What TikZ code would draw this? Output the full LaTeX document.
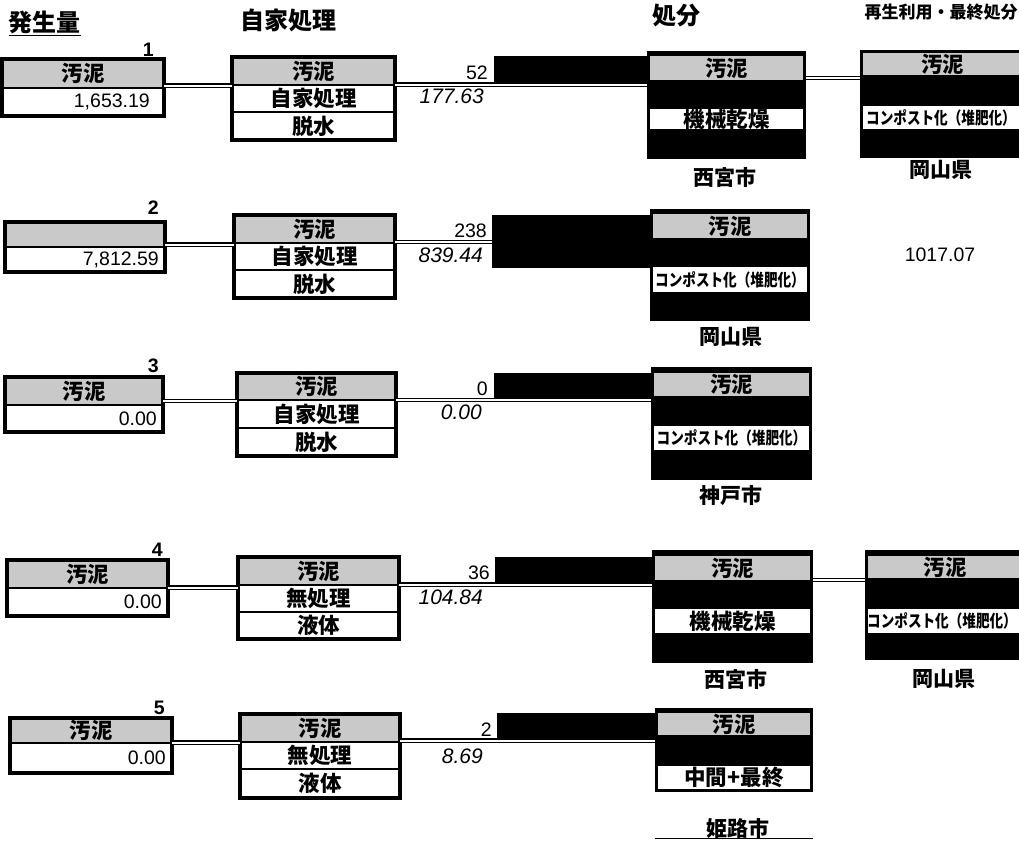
\documentclass[tikz,border=0pt]{standalone}
\usepackage{fontspec}
\setmainfont{Liberation Sans}
\newfontfamily\jp{Noto Sans CJK JP}
\newfontfamily\jpn[FakeStretch=0.8]{Noto Sans CJK JP}
\usetikzlibrary{fit}
\definecolor{shadegray}{gray}{0.79}
\tikzset{
  x=1pt, y=-1pt,
  boxframe/.style={draw, line width=3.2pt, inner sep=0pt, outer sep=0pt},
  blackbox/.style={fill=black, inner sep=0pt, outer sep=0pt},
  graycell/.style={fill=shadegray, inner sep=0pt, outer sep=0pt},
  whitecell/.style={fill=white, inner sep=0pt, outer sep=0pt},
  divider/.style={line width=1.6pt},
  dbl/.style={draw, double=white, double distance=2pt, line width=1.3pt},
  jptxt/.style={font={\jp\bfseries\fontsize{21.5}{24}\selectfont}, inner sep=0pt},
  loc/.style={font={\jp\bfseries\fontsize{21}{24}\selectfont}, inner sep=0pt},
  hdr/.style={font={\jp\bfseries\fontsize{24}{26}\selectfont}, inner sep=0pt},
  hdrs/.style={font={\jp\bfseries\fontsize{17}{19}\selectfont}, inner sep=0pt},
  cmp/.style={font={\jpn\bfseries\fontsize{17}{19}\selectfont}, inner sep=0pt},
  numtxt/.style={font={\fontsize{19.5}{22}\selectfont}, inner sep=0pt},
  itxt/.style={font={\itshape\fontsize{21}{24}\selectfont}, inner sep=0pt},
  rownum/.style={font={\bfseries\fontsize{19.5}{22}\selectfont}, inner sep=0pt},
}
% name, x1, y1, x2, ydiv, y2, top text, bottom text, right inset
\newcommand\Abox[9]{%
  \fill[shadegray] (#2,#3) rectangle (#4,#5);
  \draw[divider] (#2,#5) -- (#4,#5);
  \node[boxframe, fit={(#2,#3)(#4,#6)}] (#1) {};
  \node[jptxt] (#1t) at ({(#2+#4)/2},{(#3+#5)/2}) {#7};
  \node[numtxt, anchor=east] (#1v) at ({#4-#9},{(#5+#6)/2}) {#8};
}
% name, x1, y1, x2, d1, d2, y2, second text, third text
\newcommand\Bbox[9]{%
  \fill[shadegray] (#2,#3) rectangle (#4,#5);
  \draw[divider] (#2,#5) -- (#4,#5);
  \draw[divider] (#2,#6) -- (#4,#6);
  \node[boxframe, fit={(#2,#3)(#4,#7)}] (#1) {};
  \node[jptxt] (#1a) at ({(#2+#4)/2},{(#3+#5)/2}) {汚泥};
  \node[jptxt] (#1b) at ({(#2+#4)/2},{(#5+#6)/2}) {#8};
  \node[jptxt] (#1c) at ({(#2+#4)/2},{(#6+#7)/2}) {#9};
}
% name, x1, y1, x2, y2, gray top, gray bottom, white top, white bottom
\newcommand\Cbox[9]{%
  \node[blackbox, fit={(#2,#3)(#4,#5)}] (#1) {};
  \node[graycell, fit={(#2+3,#6)(#4-3,#7)}] (#1g) {};
  \node[jptxt] (#1gt) at (#1g) {汚泥};
  \node[whitecell, fit={(#2+3,#8)(#4-3,#9)}] (#1w) {};
}
\begin{document}
\begin{tikzpicture}
\useasboundingbox (0,0) rectangle (1019,841);
\fill[white] (0,0) rectangle (1019,841);

% headers
\node[hdr] (h1) at (45,22) {発生量};
\draw[line width=1.3pt] ([yshift=-1.5pt]h1.south west) -- ([yshift=-1.5pt]h1.south east);
\node[hdr] (h2) at (288,20) {自家処理};
\node[hdr] (h3) at (676,16) {処分};
\node[hdrs] (h4) at (941,12) {再生利用・最終処分};

% ---------- row 1
\coordinate (ab1) at (0,85.5);
\coordinate (bc1) at (0,84.5);
\coordinate (cd1) at (0,78);
\Abox{a1}{2}{59}{164}{88}{116}{汚泥}{1,653.19}{14}
\node[rownum, anchor=south east] (n1) at (154,57) {1};
\Bbox{b1}{232}{57}{395}{85}{112}{140}{自家処理}{脱水}
\Cbox{c1}{647}{51}{806}{159}{56}{80}{109}{129}
\node[jptxt] (c1wt) at (c1w) {機械乾燥};
\node[loc] (c1l) at (725,177) {西宮市};
\Cbox{d1}{860}{50}{1025}{158}{53}{75}{106}{129}
\node[cmp] (d1wt) at (941,117.5) {コンポスト化（堆肥化）};
\node[loc] (d1l) at (941,170) {岡山県};
\draw[dbl] (a1.east |- ab1) -- (b1.west |- ab1);
\draw[dbl] (b1.east |- bc1) -- (c1.west |- bc1);
\draw[dbl] (c1.east |- cd1) -- (d1.west |- cd1);
\fill (494,56) rectangle (647,82);
\node[numtxt, anchor=south east] (u1) at (488,80) {52};
\node[itxt, anchor=north east] (i1) at (484,89) {177.63};

% ---------- row 2
\coordinate (ab2) at (0,244.5);
\coordinate (bc2) at (0,242);
\Abox{a2}{5}{222}{165}{247}{272}{}{7,812.59}{6}
\node[rownum, anchor=south east] (n2) at (159,215) {2};
\Bbox{b2}{234}{215}{395}{243}{270}{298}{自家処理}{脱水}
\Cbox{c2}{650}{209}{810}{321}{214}{238}{267}{292}
\node[cmp] (c2wt) at (c2w) {コンポスト化（堆肥化）};
\node[loc] (c2l) at (731,337) {岡山県};
\node[numtxt] (t2) at (940,255) {1017.07};
\draw[dbl] (a2.east |- ab2) -- (b2.west |- ab2);
\draw[dbl] (b2.east |- bc2) -- (c2.west |- bc2);
\fill (492,215) rectangle (650,268);
\node[numtxt, anchor=south east] (u2) at (487,237.5) {238};
\node[itxt, anchor=north east] (i2) at (483,248) {839.44};

% ---------- row 3
\coordinate (ab3) at (0,401);
\coordinate (bc3) at (0,400);
\Abox{a3}{5}{377}{163}{405}{432}{汚泥}{0.00}{6}
\node[rownum, anchor=south east] (n3) at (159,373) {3};
\Bbox{b3}{237}{373}{396}{400}{428}{456}{自家処理}{脱水}
\Cbox{c3}{651}{367}{812}{480}{373}{396}{426}{450}
\node[cmp] (c3wt) at (c3w) {コンポスト化（堆肥化）};
\node[loc] (c3l) at (731,496) {神戸市};
\draw[dbl] (a3.east |- ab3) -- (b3.west |- ab3);
\draw[dbl] (b3.east |- bc3) -- (c3.west |- bc3);
\fill (494,373) rectangle (651,397.5);
\node[numtxt, anchor=south east] (u3) at (488,395.5) {0};
\node[itxt, anchor=north east] (i3) at (482,405) {0.00};

% ---------- row 4
\coordinate (ab4) at (0,587.5);
\coordinate (bc4) at (0,584.5);
\coordinate (cd4) at (0,580);
\Abox{a4}{7}{560}{168}{588}{616}{汚泥}{0.00}{6}
\node[rownum, anchor=south east] (n4) at (163,557) {4};
\Bbox{b4}{238}{557}{399}{585}{612}{639}{無処理}{液体}
\Cbox{c4}{652}{550}{813}{663}{556}{580}{609}{633}
\node[jptxt] (c4wt) at (c4w) {機械乾燥};
\node[loc] (c4l) at (736,679) {西宮市};
\Cbox{d4}{865}{550}{1025}{660}{556}{578}{609}{633}
\node[cmp] (d4wt) at (942,621) {コンポスト化（堆肥化）};
\node[loc] (d4l) at (944,679) {岡山県};
\draw[dbl] (a4.east |- ab4) -- (b4.west |- ab4);
\draw[dbl] (b4.east |- bc4) -- (c4.west |- bc4);
\draw[dbl] (c4.east |- cd4) -- (d4.west |- cd4);
\fill (495,557) rectangle (652,582);
\node[numtxt, anchor=south east] (u4) at (490,580) {36};
\node[itxt, anchor=north east] (i4) at (483,590) {104.84};

% ---------- row 5
\coordinate (ab5) at (0,742.5);
\coordinate (bc5) at (0,740.5);
\coordinate (ul5) at (0,838.5);
\Abox{a5}{10}{718}{172}{743}{773}{汚泥}{0.00}{6}
\node[rownum, anchor=south east] (n5) at (165,715) {5};
\Bbox{b5}{240}{714}{400}{742}{769}{798}{無処理}{液体}
\Cbox{c5}{655}{708}{813}{792}{713}{735}{766}{789}
\node[jptxt] (c5wt) at (c5w) {中間+最終};
\node[loc] (c5l) at (738,828) {姫路市};
\draw[line width=1.3pt] (c5.west |- ul5) -- (c5.east |- ul5);
\draw[dbl] (a5.east |- ab5) -- (b5.west |- ab5);
\draw[dbl] (b5.east |- bc5) -- (c5.west |- bc5);
\fill (497,713) rectangle (655,738);
\node[numtxt, anchor=south east] (u5) at (492,737) {2};
\node[itxt, anchor=north east] (i5) at (483,749) {8.69};
\end{tikzpicture}
\end{document}
